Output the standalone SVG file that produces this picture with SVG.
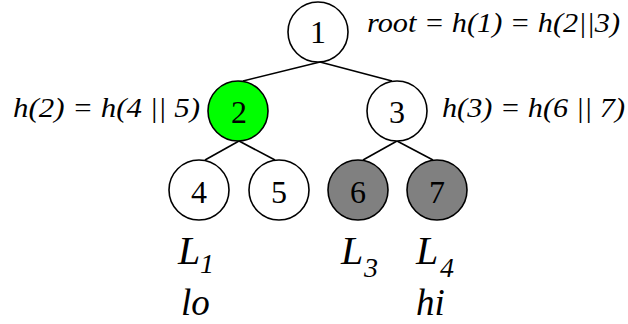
<svg xmlns="http://www.w3.org/2000/svg" width="628" height="324" viewBox="0 0 628 324">
<style>
.node circle{stroke:#000;stroke-width:1.6}
.num{font-family:"Liberation Serif","Times New Roman",serif;font-size:32px;text-anchor:middle;fill:#000}
.lbl{font-family:"Liberation Serif","Times New Roman",serif;font-style:italic;font-size:28px;fill:#000}
.big{font-family:"Liberation Serif","Times New Roman",serif;font-style:italic;font-size:40px;fill:#000}
.sub{font-size:28px}
.low{font-family:"Liberation Serif","Times New Roman",serif;font-style:italic;font-size:37px;fill:#000}
#connectors line{stroke:#000;stroke-width:1.6}
</style>
<rect width="628" height="324" fill="#fff"/>
<g id="connectors">
<line x1="320" y1="62" x2="243" y2="81"/>
<line x1="320" y1="62" x2="392" y2="81"/>
<line x1="239" y1="141" x2="205" y2="160"/>
<line x1="239" y1="141" x2="275" y2="160"/>
<line x1="397" y1="141" x2="363" y2="160"/>
<line x1="397" y1="141" x2="433" y2="160"/>
</g>
<g id="node1" class="node"><circle cx="318" cy="32" r="30" fill="#fff"/><text class="num" x="318" y="43">1</text></g>
<g id="node2" class="node"><circle cx="238" cy="111" r="30" fill="#00ff00"/><text class="num" x="239" y="123">2</text></g>
<g id="node3" class="node"><circle cx="397" cy="111" r="30" fill="#fff"/><text class="num" x="397" y="123">3</text></g>
<g id="node4" class="node"><circle cx="199" cy="190" r="30" fill="#fff"/><text class="num" x="199" y="203">4</text></g>
<g id="node5" class="node"><circle cx="279" cy="190" r="30" fill="#fff"/><text class="num" x="279" y="203">5</text></g>
<g id="node6" class="node"><circle cx="358" cy="190" r="30" fill="#808080"/><text class="num" x="358" y="203">6</text></g>
<g id="node7" class="node"><circle cx="437" cy="190" r="30" fill="#808080"/><text class="num" x="437" y="203">7</text></g>
<g id="labels">
<text class="lbl" x="367" y="32" textLength="253" lengthAdjust="spacingAndGlyphs">root = h(1) = h(2||3)</text>
<text class="lbl" x="13" y="117" textLength="187" lengthAdjust="spacingAndGlyphs">h(2) = h(4 || 5)</text>
<text class="lbl" x="442" y="117" textLength="183" lengthAdjust="spacingAndGlyphs">h(3) = h(6 || 7)</text>
<text class="big" x="178" y="264">L<tspan class="sub" x="200" y="273">1</tspan></text>
<text class="big" x="341" y="264">L<tspan class="sub" x="364" y="277">3</tspan></text>
<text class="big" x="416" y="264">L<tspan class="sub" x="440" y="277">4</tspan></text>
<text class="low" x="181" y="315">lo</text>
<text class="low" x="416" y="315">hi</text>
</g>
</svg>
